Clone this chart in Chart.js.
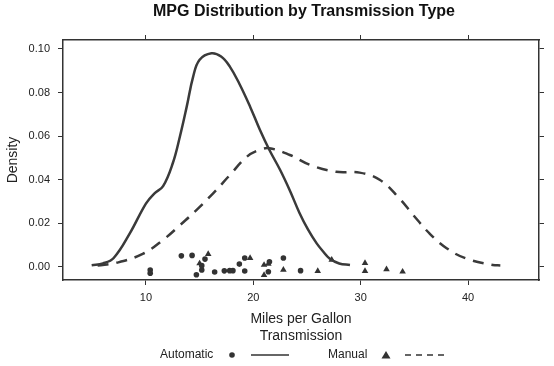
<!DOCTYPE html>
<html>
<head>
<meta charset="utf-8">
<script src="https://cdn.jsdelivr.net/npm/chart.js@4"></script>
<style>
  html, body { margin: 0; padding: 0; background: #fff; }
  canvas { display: block; }
</style>
</head>
<body>
<canvas id="mpg-chart" width="554" height="366"></canvas>
<script>
// density curves
const autoCurveX = [4.95, 6.0, 7.0, 8.5, 10.0, 10.8, 11.6, 12.5, 13.16, 13.8, 14.4, 15.0, 16.1, 17.0, 17.8, 18.7, 19.7, 20.6, 21.5, 22.5, 23.4, 24.3, 25.1, 25.9, 26.5, 27.1, 28.0, 29.0];
const autoCurveY = [0.0007, 0.0015, 0.004, 0.0153, 0.029, 0.0337, 0.037, 0.0475, 0.0597, 0.0735, 0.0873, 0.095, 0.098, 0.0965, 0.092, 0.084, 0.0735, 0.063, 0.0536, 0.0444, 0.035, 0.0247, 0.017, 0.0107, 0.007, 0.0038, 0.0015, 0.0008];

const manualCurveX = [5.5, 7.27, 9.75, 11.6, 13.16, 14.7, 16.26, 17.8, 19.4, 20.5, 21.5, 23.4, 25.3, 27.7, 29.9, 31.8, 33.6, 34.9, 36.4, 38.0, 39.8, 42.3, 43.0];
const manualCurveY = [0.0005, 0.0018, 0.006, 0.0123, 0.019, 0.026, 0.0337, 0.042, 0.0505, 0.0535, 0.0544, 0.0513, 0.0467, 0.0436, 0.0432, 0.0398, 0.0314, 0.0237, 0.0153, 0.0085, 0.0038, 0.0008, 0.0006];

// raw observations with their jitter
const autoMpg = [21.4, 18.7, 18.1, 14.3, 24.4, 22.8, 19.2, 17.8, 16.4, 17.3, 15.2, 10.4, 10.4, 14.7, 21.5, 15.5, 15.2, 13.3, 19.2];
const autoJitter = [-0.0023, 0.0012, -0.0018, 0.0052, -0.0018, 0.004, 0.004, -0.0018, -0.0024, -0.0019, -0.0015, -0.0015, -0.003, -0.0037, 0.0023, 0.0035, 0.0005, 0.005, -0.002];
const manualMpg = [21.0, 21.0, 22.8, 32.4, 30.4, 33.9, 27.3, 26.0, 30.4, 15.8, 19.7, 15.0, 21.4];
const manualJitter = [0.0008, -0.0038, -0.0014, -0.0012, 0.0017, -0.0023, 0.0032, -0.002, -0.002, 0.0058, 0.004, 0.0015, 0.0013];

const xTicks = [10, 20, 30, 40];
const yTicks = [0, 0.02, 0.04, 0.06, 0.08, 0.10];
const groups = ['Automatic', 'Manual'];

const ink = '#333333';
const font = "'Liberation Sans', Arial, sans-serif";

function pairs(xs, ys) {
    return xs.map((x, i) => ({x: x, y: ys[i]}));
}
function setTicks(list) {
    return function(scale) { scale.ticks = list.map(v => ({value: v})); };
}

const frame = {
    border: {display: true, color: ink, width: 1.5},
    grid: {drawOnChartArea: false, drawTicks: true, tickLength: 5, color: ink, lineWidth: 1}
};

// title, legend title and key, lattice style
const decorations = {
    id: 'decorations',
    afterDraw(chart) {
        const ctx = chart.ctx;
        const area = chart.chartArea;
        const mid = (area.left + area.right) / 2;
        ctx.save();
        ctx.fillStyle = '#111';
        ctx.textAlign = 'center';
        ctx.textBaseline = 'middle';
        ctx.font = 'bold 16px ' + font;
        ctx.fillText('MPG Distribution by Transmission Type', mid + 3, 12);

        ctx.fillStyle = '#222';
        ctx.font = '14px ' + font;
        ctx.fillText('Transmission', mid, 336);

        ctx.font = '12px ' + font;
        ctx.textAlign = 'left';
        const y = 355;
        ctx.fillText(groups[0], 160, y);
        ctx.fillText(groups[1], 328, y);

        ctx.fillStyle = ink;
        ctx.beginPath();
        ctx.arc(232, y, 2.8, 0, Math.PI * 2);
        ctx.fill();
        ctx.beginPath();
        ctx.moveTo(386, y - 4);
        ctx.lineTo(390.5, y + 3.5);
        ctx.lineTo(381.5, y + 3.5);
        ctx.closePath();
        ctx.fill();

        ctx.strokeStyle = ink;
        ctx.lineWidth = 1.5;
        ctx.beginPath();
        ctx.moveTo(251, y);
        ctx.lineTo(289, y);
        ctx.stroke();
        ctx.setLineDash([6, 5]);
        ctx.beginPath();
        ctx.moveTo(405, y);
        ctx.lineTo(444, y);
        ctx.stroke();
        ctx.restore();
    }
};

const ctx = document.getElementById('mpg-chart').getContext('2d');

new Chart(ctx, {
    type: 'line',
    data: {
        datasets: [{
            label: groups[0],
            data: pairs(autoCurveX, autoCurveY),
            borderColor: '#3a3a3a',
            borderWidth: 2.5,
            pointRadius: 0,
            tension: 0.4
        }, {
            label: groups[1],
            data: pairs(manualCurveX, manualCurveY),
            borderColor: '#3a3a3a',
            borderWidth: 2.5,
            borderDash: [11, 8],
            pointRadius: 0,
            tension: 0.4
        }, {
            type: 'scatter',
            label: groups[0] + ' obs',
            data: pairs(autoMpg, autoJitter),
            pointStyle: 'circle',
            pointRadius: 2.8,
            backgroundColor: ink,
            borderWidth: 0
        }, {
            type: 'scatter',
            label: groups[1] + ' obs',
            data: pairs(manualMpg, manualJitter),
            pointStyle: 'triangle',
            pointRadius: 3.8,
            backgroundColor: ink,
            borderWidth: 0
        }]
    },
    options: {
        responsive: false,
        devicePixelRatio: 1,
        animation: false,
        layout: {padding: 0},
        plugins: {
            legend: {display: false},
            title: {display: false},
            tooltip: {enabled: false}
        },
        scales: {
            x: Object.assign({
                type: 'linear',
                position: 'bottom',
                min: 2.28,
                max: 46.6,
                afterBuildTicks: setTicks(xTicks),
                afterFit: function(s) { s.height = 86; },
                ticks: {color: '#222', font: {family: font, size: 11}, padding: 6, maxRotation: 0},
                title: {display: true, text: 'Miles per Gallon', color: '#222', font: {family: font, size: 14}, padding: {bottom: 38}}
            }, frame),
            y: Object.assign({
                type: 'linear',
                position: 'left',
                min: -0.0061,
                max: 0.1041,
                afterBuildTicks: setTicks(yTicks),
                afterFit: function(s) { s.width = 63; },
                ticks: {
                    color: '#222',
                    font: {family: font, size: 11},
                    padding: 8,
                    callback: function(value) { return value.toFixed(2); }
                },
                title: {display: true, text: 'Density', color: '#222', font: {family: font, size: 14}, padding: {top: 5}}
            }, frame),
            x2: Object.assign({
                type: 'linear',
                position: 'top',
                min: 2.28,
                max: 46.6,
                afterBuildTicks: setTicks(xTicks),
                afterFit: function(s) { s.height = 40; },
                ticks: {display: false}
            }, frame),
            y2: Object.assign({
                type: 'linear',
                position: 'right',
                min: -0.0061,
                max: 0.1041,
                afterBuildTicks: setTicks(yTicks),
                afterFit: function(s) { s.width = 15; },
                ticks: {display: false}
            }, frame)
        }
    },
    plugins: [decorations]
});
</script>
</body>
</html>
